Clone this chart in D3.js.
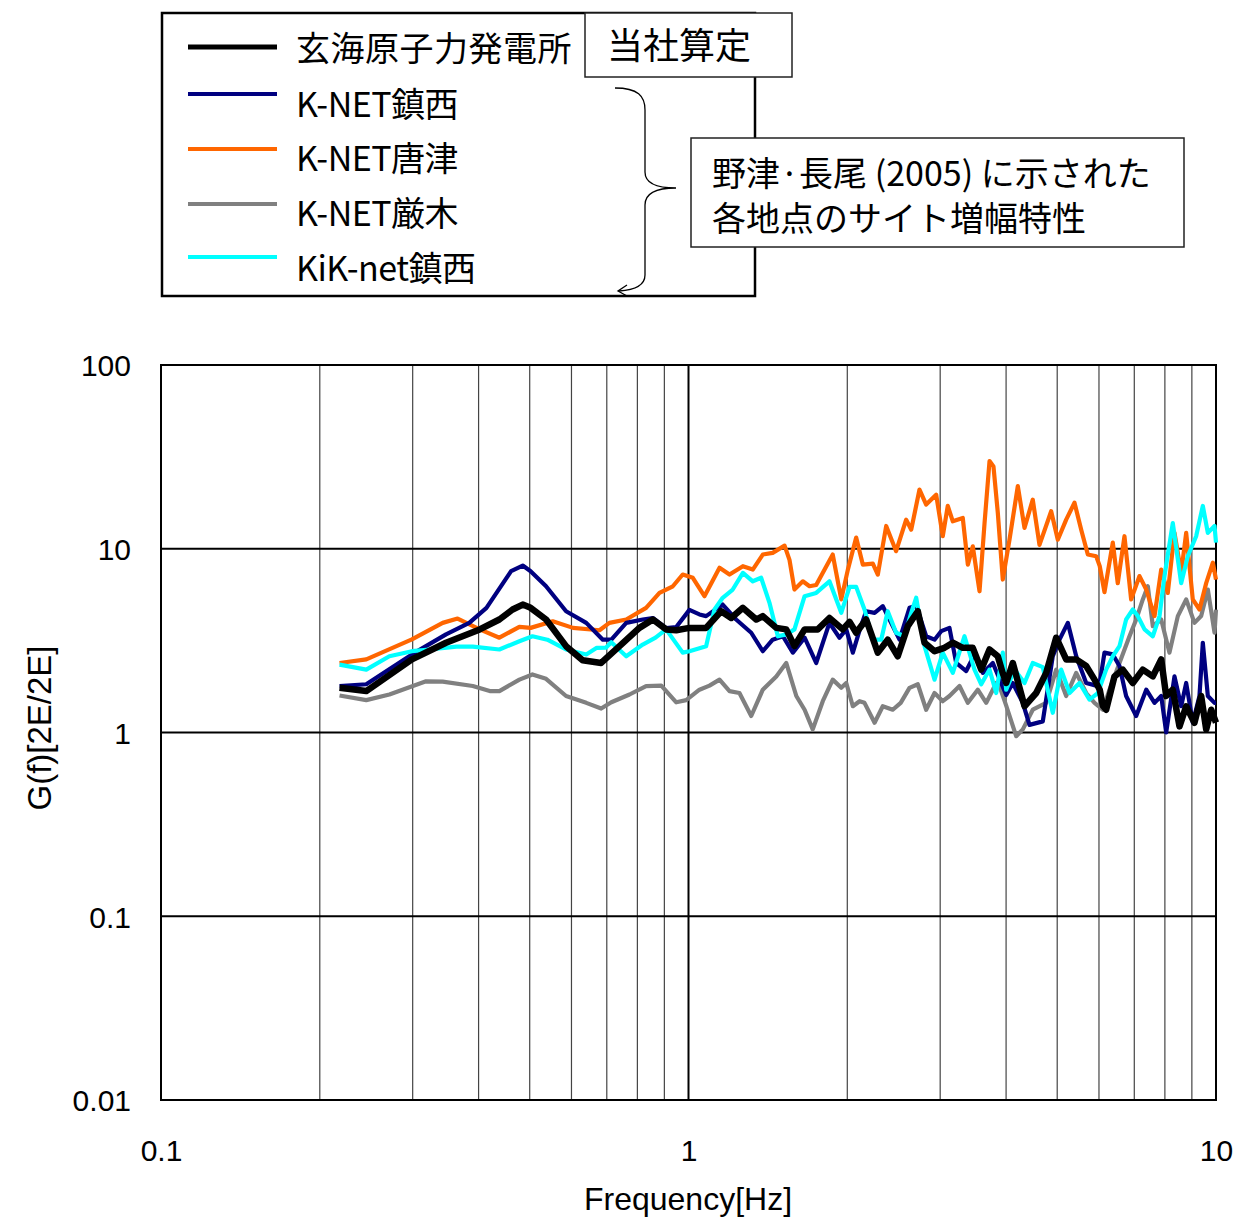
<!DOCTYPE html>
<html>
<head>
<meta charset="utf-8">
<script src="https://cdn.jsdelivr.net/npm/d3@7"></script>
<style>
  body { margin: 0; background: #fff; }
  svg text { font-family: "Liberation Sans", Arial, sans-serif; }
  .jp { font-family: "Noto Sans CJK JP", "Noto Sans CJK SC", sans-serif; }
</style>
</head>
<body>
<div class="layout"></div>
<script>

    // values: [frequency Hz, G(f)]
    var genkai = [[0.218,1.75],[0.245,1.68],[0.299,2.5],[0.347,3.08],[0.402,3.64],[0.438,4.12],[0.464,4.67],[0.485,4.97],[0.502,4.77],[0.537,4.12],[0.586,2.95],[0.630,2.47],[0.683,2.39],[0.740,2.95],[0.807,3.71],[0.856,4.12],[0.907,3.64],[0.948,3.6],[1.004,3.71],[1.080,3.71],[1.153,4.57],[1.205,4.2],[1.268,4.77],[1.344,4.12],[1.383,4.3],[1.467,3.71],[1.532,3.64],[1.588,2.95],[1.660,3.64],[1.758,3.64],[1.850,4.2],[1.961,3.64],[2.020,4.0],[2.079,3.49],[2.172,4.12],[2.285,2.72],[2.386,3.2],[2.493,2.6],[2.604,3.79],[2.721,4.57],[2.802,3.08],[2.927,2.77],[3.057,2.89],[3.170,3.08],[3.311,2.89],[3.459,2.89],[3.589,2.2],[3.721,2.83],[3.858,2.6],[3.943,2.1],[4.002,1.86],[4.119,2.39],[4.335,1.39],[4.562,1.64],[4.765,2.11],[4.978,3.28],[5.200,2.5],[5.433,2.5],[5.674,2.3],[5.885,1.94],[6.020,1.71],[6.101,1.4],[6.191,1.33],[6.420,2.02],[6.656,2.2],[6.955,1.86],[7.265,2.2],[7.590,2.02],[7.873,2.5],[8.046,1.58],[8.281,1.71],[8.527,1.08],[8.780,1.39],[9.103,1.13],[9.373,1.58],[9.581,1.04],[9.793,1.33],[10.0,1.13]];

    var chinzei = [[0.218,1.79],[0.245,1.83],[0.299,2.66],[0.347,3.42],[0.384,3.95],[0.414,4.77],[0.461,7.55],[0.485,8.1],[0.502,7.55],[0.537,6.25],[0.586,4.57],[0.640,3.95],[0.688,3.2],[0.714,3.2],[0.762,3.95],[0.819,4.12],[0.856,4.2],[0.907,3.7],[0.948,3.75],[1.004,4.65],[1.049,4.39],[1.080,4.3],[1.161,4.97],[1.231,4.12],[1.315,3.49],[1.383,2.77],[1.444,3.2],[1.510,3.34],[1.577,2.72],[1.660,3.28],[1.746,2.39],[1.850,3.95],[1.933,3.28],[1.991,3.64],[2.049,2.72],[2.110,3.6],[2.172,4.57],[2.253,4.48],[2.335,4.87],[2.439,3.79],[2.512,3.2],[2.624,4.77],[2.702,4.9],[2.822,3.34],[2.927,3.2],[3.013,3.56],[3.124,3.71],[3.217,2.39],[3.361,2.16],[3.485,2.66],[3.614,2.11],[3.775,2.39],[3.915,1.86],[4.002,1.6],[4.119,1.86],[4.303,1.45],[4.430,1.1],[4.695,1.15],[4.904,2.6],[5.050,3.2],[5.237,3.95],[5.433,2.6],[5.674,1.86],[5.928,1.8],[6.020,1.86],[6.146,2.72],[6.373,2.66],[6.562,2.3],[6.755,1.58],[7.058,1.23],[7.375,1.71],[7.646,1.45],[7.873,1.58],[8.046,1.0],[8.343,2.02],[8.590,1.39],[8.780,1.86],[9.036,1.13],[9.304,1.58],[9.441,3.08],[9.650,1.58],[9.936,1.45],[10.0,1.45]];

    var karatsu = [[0.218,2.39],[0.245,2.5],[0.299,3.21],[0.342,3.95],[0.365,4.17],[0.402,3.64],[0.438,3.28],[0.478,3.76],[0.502,3.71],[0.553,4.03],[0.604,3.71],[0.678,3.6],[0.708,3.95],[0.762,4.12],[0.831,4.77],[0.881,5.75],[0.934,6.25],[0.975,7.24],[1.019,6.95],[1.072,5.52],[1.145,7.88],[1.196,7.24],[1.268,8.04],[1.324,7.7],[1.383,9.3],[1.444,9.5],[1.521,10.4],[1.554,8.7],[1.588,6.0],[1.647,6.65],[1.696,6.25],[1.746,6.35],[1.877,9.3],[1.948,5.3],[2.005,7.7],[2.079,11.5],[2.140,8.2],[2.236,8.3],[2.285,7.24],[2.370,13.3],[2.475,9.7],[2.586,14.4],[2.644,12.7],[2.741,21],[2.822,17.4],[2.948,19.7],[3.034,11.7],[3.101,17.1],[3.170,14.1],[3.311,14.7],[3.385,8.2],[3.459,10.3],[3.562,5.87],[3.641,13.8],[3.721,30],[3.786,28],[3.858,15.7],[3.943,6.8],[4.060,11.2],[4.210,21.9],[4.335,13.0],[4.494,18.5],[4.628,10.5],[4.870,16.0],[5.013,11.2],[5.200,14.4],[5.392,17.8],[5.552,12.7],[5.715,9.3],[5.928,9.1],[6.020,8.04],[6.146,5.8],[6.373,10.8],[6.513,6.5],[6.706,11.7],[6.905,5.3],[7.161,7.1],[7.375,6.0],[7.646,4.3],[7.873,7.7],[8.102,5.75],[8.343,12.2],[8.590,7.4],[8.780,12.2],[9.036,5.3],[9.304,4.67],[9.581,6.5],[9.863,8.4],[10.0,6.8]];

    var izuhara = [[0.218,1.59],[0.245,1.5],[0.271,1.61],[0.318,1.9],[0.342,1.89],[0.390,1.79],[0.420,1.68],[0.438,1.68],[0.478,1.94],[0.506,2.07],[0.537,1.96],[0.586,1.58],[0.640,1.45],[0.683,1.35],[0.714,1.46],[0.773,1.61],[0.831,1.79],[0.888,1.8],[0.948,1.46],[0.990,1.5],[1.049,1.71],[1.096,1.8],[1.145,1.94],[1.196,1.68],[1.249,1.64],[1.315,1.23],[1.383,1.71],[1.467,2.02],[1.532,2.39],[1.601,1.58],[1.660,1.33],[1.720,1.04],[1.797,1.48],[1.877,1.94],[1.948,1.75],[1.991,1.86],[2.049,1.39],[2.110,1.48],[2.156,1.45],[2.253,1.13],[2.335,1.39],[2.439,1.33],[2.525,1.45],[2.624,1.75],[2.721,1.83],[2.822,1.33],[2.927,1.64],[3.034,1.48],[3.124,1.58],[3.264,1.79],[3.385,1.45],[3.535,1.71],[3.668,1.45],[3.831,1.86],[3.886,1.79],[4.002,1.4],[4.180,0.955],[4.303,1.04],[4.494,1.33],[4.765,1.45],[4.978,2.2],[5.200,1.58],[5.433,2.11],[5.674,1.64],[5.885,1.45],[6.101,1.33],[6.281,1.71],[6.562,2.39],[6.855,3.34],[7.058,4.12],[7.265,5.3],[7.426,6.25],[7.590,3.79],[7.873,4.12],[8.162,2.72],[8.465,4.3],[8.780,5.3],[9.103,3.95],[9.373,4.3],[9.650,6.0],[9.936,3.49],[10.0,4.67]];

    var kikChinzei = [[0.218,2.34],[0.245,2.2],[0.271,2.6],[0.299,2.77],[0.323,2.83],[0.363,2.93],[0.390,2.93],[0.438,2.83],[0.478,3.14],[0.506,3.34],[0.540,3.2],[0.586,2.83],[0.640,2.66],[0.670,2.89],[0.698,2.9],[0.714,3.1],[0.762,2.6],[0.819,3.01],[0.866,3.28],[0.907,3.64],[0.975,2.72],[1.004,2.77],[1.080,2.95],[1.120,4.67],[1.161,5.41],[1.213,6.0],[1.268,7.39],[1.324,6.65],[1.373,6.95],[1.424,5.08],[1.477,3.34],[1.532,3.42],[1.588,3.64],[1.660,5.52],[1.746,5.75],[1.850,6.65],[1.948,4.48],[2.020,6.2],[2.079,6.2],[2.156,4.67],[2.236,3.2],[2.319,3.2],[2.386,4.57],[2.475,3.49],[2.567,3.34],[2.644,4.48],[2.702,5.41],[2.802,2.95],[2.927,1.94],[3.034,2.72],[3.170,2.11],[3.336,3.34],[3.485,2.2],[3.589,1.83],[3.721,2.2],[3.831,1.64],[3.943,2.72],[4.002,1.71],[4.150,2.2],[4.335,1.86],[4.494,2.39],[4.695,2.27],[4.904,1.28],[5.088,2.2],[5.276,1.64],[5.511,1.86],[5.757,1.51],[5.970,1.64],[6.191,2.2],[6.373,2.6],[6.562,2.95],[6.755,4.12],[6.955,4.67],[7.109,4.3],[7.320,3.64],[7.590,3.34],[7.815,4.3],[7.986,7.1],[8.281,13.8],[8.590,6.5],[8.841,9.1],[9.170,11.7],[9.441,17.1],[9.650,12.2],[9.936,13.3],[10.0,10.8]];

    var legendNames = ["玄海原子力発電所", "K-NET鎮西", "K-NET唐津", "K-NET厳木", "KiK-net鎮西"];
    var seriesColors = ["#000000", "#000080", "#ff6600", "#808080", "#00ffff"];
    var noteLines = ["野津·長尾 (2005) に示された", "各地点のサイト増幅特性"];
    var yTicks = [0.01, 0.1, 1, 10, 100];
    var xTicks = [0.1, 1, 10];
    var xMinor = [0.2, 0.3, 0.4, 0.5, 0.6, 0.7, 0.8, 0.9, 2, 3, 4, 5, 6, 7, 8, 9];

    var svg = d3.select(".layout").append("svg").attr("width", 1249).attr("height", 1218);

    var x = d3.scaleLog().domain([0.1, 10]).range([161, 1216]);
    var y = d3.scaleLog().domain([0.01, 100]).range([1100, 365]);

    // grid
    svg.selectAll(".minor").data(xMinor).enter().append("line")
        .attr("x1", function(d) { return x(d); }).attr("x2", function(d) { return x(d); })
        .attr("y1", 365).attr("y2", 1100)
        .attr("stroke", "#444").attr("stroke-width", 1.2);

    svg.selectAll(".hmajor").data([0.1, 1, 10]).enter().append("line")
        .attr("x1", 161).attr("x2", 1216)
        .attr("y1", function(d) { return y(d); }).attr("y2", function(d) { return y(d); })
        .attr("stroke", "#000").attr("stroke-width", 2);

    svg.append("line").attr("x1", x(1)).attr("x2", x(1)).attr("y1", 365).attr("y2", 1100)
        .attr("stroke", "#000").attr("stroke-width", 2);

    svg.append("rect").attr("x", 161).attr("y", 365).attr("width", 1055).attr("height", 735)
        .attr("fill", "none").attr("stroke", "#000").attr("stroke-width", 2);

    // axes labels
    var yAxis = d3.axisLeft(y).tickValues(yTicks).tickSize(0).tickPadding(30)
        .tickFormat(function(d) { return String(d); });
    var gy = svg.append("g").attr("transform", "translate(161,0)").call(yAxis);
    gy.select(".domain").remove();
    gy.selectAll("text").attr("font-size", 30).attr("font-family", "Liberation Sans, Arial, sans-serif")
        .attr("fill", "#000").attr("dy", "0.36em");

    var xAxis = d3.axisBottom(x).tickValues(xTicks).tickSize(0).tickPadding(0)
        .tickFormat(function(d) { return String(d); });
    var gx = svg.append("g").attr("transform", "translate(0,1100)").call(xAxis);
    gx.select(".domain").remove();
    gx.selectAll("text").attr("font-size", 30).attr("font-family", "Liberation Sans, Arial, sans-serif")
        .attr("fill", "#000").attr("y", 61).attr("dy", 0);

    svg.append("text").text("Frequency[Hz]").attr("x", 688).attr("y", 1210)
        .attr("text-anchor", "middle").attr("font-size", 32);

    svg.append("text").text("G(f)[2E/2E]")
        .attr("transform", "translate(51,728) rotate(-90)")
        .attr("text-anchor", "middle").attr("font-size", 33);

    // curves, black drawn last so it sits on top
    var line = d3.line().x(function(d) { return x(d[0]); }).y(function(d) { return y(d[1]); });
    var drawOrder = [[izuhara, 3, 4.2], [karatsu, 2, 4.2], [chinzei, 1, 4.2], [kikChinzei, 4, 4.2], [genkai, 0, 6.5]];
    drawOrder.forEach(function(s) {
        svg.append("path").datum(s[0]).attr("d", line)
            .attr("fill", "none").attr("stroke", seriesColors[s[1]])
            .attr("stroke-width", s[2]).attr("stroke-linejoin", "round");
    });

    // legend
    svg.append("rect").attr("x", 162).attr("y", 13).attr("width", 593).attr("height", 283)
        .attr("fill", "#fff").attr("stroke", "#000").attr("stroke-width", 2.5);

    var legendLineY = [47, 94, 149, 204, 257];
    var legendTextY = [61, 117, 171, 226, 281];
    for (var i = 0; i < legendNames.length; i++) {
        svg.append("line").attr("x1", 188).attr("x2", 277)
            .attr("y1", legendLineY[i]).attr("y2", legendLineY[i])
            .attr("stroke", seriesColors[i]).attr("stroke-width", i == 0 ? 5 : 4);
        svg.append("text").attr("class", "jp").text(legendNames[i])
            .attr("x", 296).attr("y", legendTextY[i]).attr("font-size", 34)
            .attr("letter-spacing", i == 0 ? 0.5 : -0.5);
    }

    // note boxes
    svg.append("rect").attr("x", 585).attr("y", 13).attr("width", 207).attr("height", 64)
        .attr("fill", "#fff").attr("stroke", "#222").attr("stroke-width", 1.5);
    svg.append("text").attr("class", "jp").text("当社算定")
        .attr("x", 607).attr("y", 59).attr("font-size", 36);

    svg.append("rect").attr("x", 691).attr("y", 138).attr("width", 493).attr("height", 109)
        .attr("fill", "#fff").attr("stroke", "#222").attr("stroke-width", 1.5);
    var note = svg.append("text").attr("class", "jp").attr("font-size", 34);
    note.selectAll("tspan").data(noteLines).enter().append("tspan")
        .attr("x", 712).attr("y", function(d, k) { return 186 + k * 45; })
        .text(function(d) { return d; });

    // brace
    svg.append("path")
        .attr("d", "M615,88 C638,88 645,96 645,110 L645,172 C645,183 655,188 676,188 C655,188 645,194 645,205 L645,275 C645,286 634,290 619,291")
        .attr("fill", "none").attr("stroke", "#000").attr("stroke-width", 1.3);
    svg.append("path").attr("d", "M627,285 L618,291 L627,296")
        .attr("fill", "none").attr("stroke", "#000").attr("stroke-width", 1.3);

</script>
</body>
</html>
